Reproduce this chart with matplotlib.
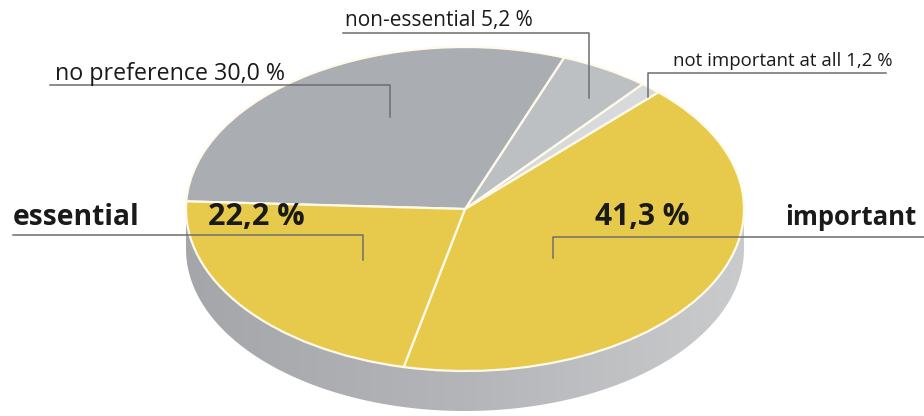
import matplotlib
matplotlib.use("Agg")
import matplotlib.pyplot as plt
import numpy as np
from matplotlib.path import Path
from matplotlib.patches import PathPatch
from matplotlib.colors import LinearSegmentedColormap

# ---- data (as labelled in the chart) ----
categories = ["important", "not important at all", "non-essential", "no preference", "essential"]
values = [41.3, 1.2, 5.2, 30.0, 22.2]
value_labels = ["41,3 %", "1,2 %", "5,2 %", "30,0 %", "22,2 %"]

YELLOW = "#e7c94b"
colors = [YELLOW, "#d7d9da", "#bdc0c3", "#aaadb1", YELLOW]

W, H, DPI = 924, 416, 100
fig = plt.figure(figsize=(W / DPI, H / DPI), dpi=DPI)
fig.patch.set_facecolor("white")

# pie geometry (pixels)
CX, CY, A, B, DEPTH = 465, 209, 279, 162, 40

pax = fig.add_axes([0, 0, 1, 1], zorder=1)
pax.set_axis_off()

# side of the disc (grey, shaded left to right)
d = DEPTH / B
t = np.linspace(np.pi, 2 * np.pi, 200)
top = np.column_stack([np.cos(t), np.sin(t)])
bot = np.column_stack([np.cos(t[::-1]), np.sin(t[::-1]) - d])
verts = np.vstack([top, bot, top[:1]])
side = PathPatch(Path(verts, closed=True), facecolor="none", edgecolor="none")
pax.add_patch(side)
grad = np.linspace(0, 1, 256)[None, :]
cmap = LinearSegmentedColormap.from_list("side", ["#a4a6a9", "#b3b5b8", "#c9cbcd"])
im = pax.imshow(grad, extent=(-1, 1, -1 - d, 0.1), cmap=cmap, aspect="auto", zorder=0.5)
im.set_clip_path(side)

wedges, _ = pax.pie(values, colors=colors, startangle=-102.7, counterclock=True,
                    radius=1, center=(0, 0),
                    wedgeprops=dict(edgecolor="#fffaea", linewidth=1.6))
for w in wedges:
    w.set_zorder(2)

pax.set_aspect("auto")
pax.set_xlim((0 - CX) / A, (W - CX) / A)
pax.set_ylim((CY - H) / B, (CY - 0) / B)

# ---- overlay for labels (pixel coordinates, y down) ----
ax = fig.add_axes([0, 0, 1, 1], zorder=3)
ax.set_xlim(0, W)
ax.set_ylim(H, 0)
ax.set_axis_off()
ax.patch.set_alpha(0)

FONT = "Open Sans"
renderer = fig.canvas.get_renderer()

def fit_text(x, y, s, width, bold=False, size=14):
    tx = ax.text(x, y, s, ha="left", va="baseline", fontsize=size,
                 fontfamily=FONT, fontweight="bold" if bold else "normal",
                 color="#1a1a1a")
    wpx = tx.get_window_extent(renderer).width
    tx.set_fontsize(size * width / wpx)
    return tx

LC, LW = "#6e6e6e", 1.1

# no preference
fit_text(55, 80, f"{categories[3]} {value_labels[3]}", 232)
ax.plot([50, 390, 390], [85, 85, 117], color=LC, lw=LW)
# non-essential
fit_text(345, 26, f"{categories[2]} {value_labels[2]}", 189)
ax.plot([343, 589, 589], [33, 33, 98], color=LC, lw=LW)
# not important at all
fit_text(673, 66, f"{categories[1]} {value_labels[1]}", 220)
ax.plot([886, 648, 648], [73, 73, 97], color=LC, lw=LW)
# essential
fit_text(13, 225, categories[4], 127, bold=True)
fit_text(208, 225, value_labels[4], 97, bold=True)
ax.plot([13, 363, 363], [235, 235, 260], color=LC, lw=LW)
# important
fit_text(595, 225, value_labels[0], 95, bold=True)
fit_text(785, 225, categories[0], 132, bold=True)
ax.plot([924, 553, 553], [237, 237, 258], color=LC, lw=LW)

fig.savefig("out.png", dpi=DPI, facecolor="white")
